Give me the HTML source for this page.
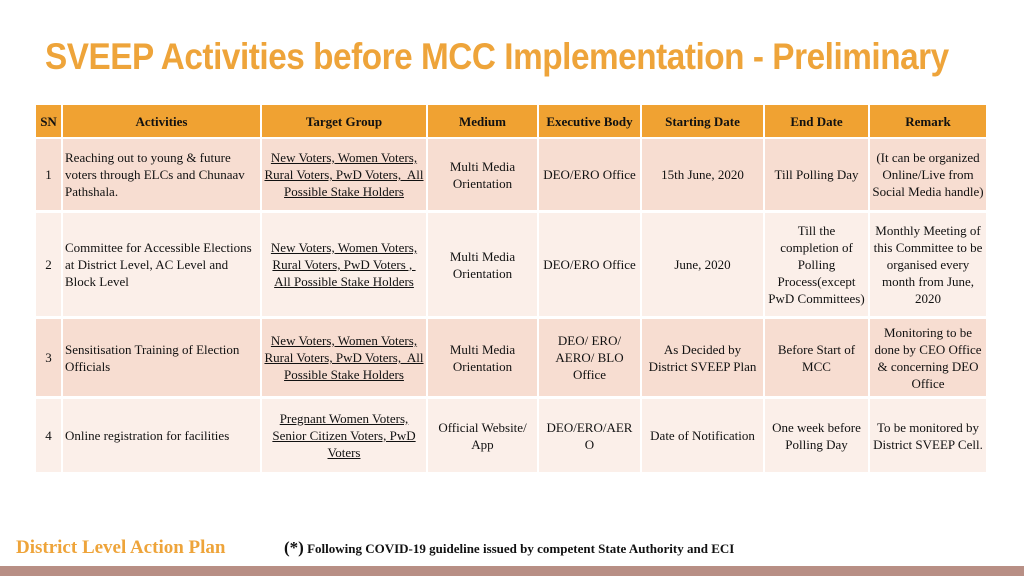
<!DOCTYPE html>
<html><head><meta charset="utf-8"><style>
body{margin:0;width:1024px;height:576px;position:relative;background:#fff;overflow:hidden;font-family:"Liberation Serif",serif;}
.title{position:absolute;left:45px;top:36px;font-family:"Liberation Sans Narrow","Liberation Sans",sans-serif;font-weight:bold;font-size:37px;color:#eea43a;letter-spacing:-0.5px;white-space:nowrap;transform:scaleX(0.9);transform-origin:left top;}
.c{position:absolute;display:flex;align-items:center;justify-content:center;text-align:center;font-size:13px;line-height:17px;color:#111;box-sizing:border-box;padding:0 2px;}
.h{background:#f0a232;font-weight:bold;}
.r1{background:#f7ddd1}.r2{background:#fbefe9}
.l{justify-content:flex-start;text-align:left}
u{text-decoration:underline}
</style></head><body>
<div class="title">SVEEP Activities before MCC Implementation - Preliminary</div>
<div id="tbl"></div>
<div style="position:absolute;left:16px;top:537px;font-size:19px;font-weight:bold;color:#eea43a;">District Level Action Plan</div>
<div style="position:absolute;left:284px;top:538px;font-size:13px;font-weight:bold;color:#111;"><span style="font-size:17px">(*)</span> Following COVID-19 guideline issued by competent State Authority and ECI</div>
<div style="position:absolute;left:0;top:566px;width:1024px;height:10px;background:#b88f85;"></div>
<script>
const colX=[36,63,262,428,539,642,765,870,988];
const rowY=[[105,137],[139,210],[213,316],[319,396],[399,472]];
const headers=["SN","Activities","Target Group","Medium","Executive Body","Starting Date","End Date","Remark"];
const rows=[
["1","Reaching out to young &amp; future voters through ELCs and Chunaav Pathshala.","<u>New Voters, Women Voters, Rural Voters, PwD Voters,&nbsp; All Possible Stake Holders</u>","Multi Media Orientation","DEO/ERO Office","15th June, 2020","Till Polling Day","(It can be organized Online/Live from Social Media handle)"],
["2","Committee for Accessible Elections at District Level, AC Level and Block Level","<u>New Voters, Women Voters, Rural Voters, PwD Voters ,&nbsp; All Possible Stake Holders</u>","Multi Media Orientation","DEO/ERO Office","June, 2020","Till the completion of Polling Process(except PwD Committees)","Monthly Meeting of this Committee to be organised every month from June, 2020"],
["3","Sensitisation Training of Election Officials","<u>New Voters, Women Voters, Rural Voters, PwD Voters,&nbsp; All Possible Stake Holders</u>","Multi Media Orientation","DEO/ ERO/ AERO/ BLO Office","As Decided by District SVEEP Plan","Before Start of MCC","Monitoring to be done by CEO Office &amp; concerning DEO Office"],
["4","Online registration for facilities","<u>Pregnant Women Voters, Senior Citizen Voters, PwD Voters</u>","Official Website/ App","DEO/ERO/AER O","Date of Notification","One week before Polling Day","To be monitored by District SVEEP Cell."]];
const tbl=document.getElementById('tbl');
function cell(ri,ci,html){
 const d=document.createElement('div');
 
 
 d.className='c '+(ri===0?'h':(ri%2?'r1':'r2'))+(ri>0&&ci===1?' l':'');
 d.style.left=colX[ci]+'px';d.style.width=(colX[ci+1]-colX[ci]-2)+'px';
 d.style.top=rowY[ri][0]+'px';d.style.height=(rowY[ri][1]-rowY[ri][0])+'px';
 d.innerHTML=html;tbl.appendChild(d);
}
headers.forEach((h,i)=>cell(0,i,h));
rows.forEach((r,ri)=>r.forEach((v,ci)=>cell(ri+1,ci,v)));
</script>
</body></html>
